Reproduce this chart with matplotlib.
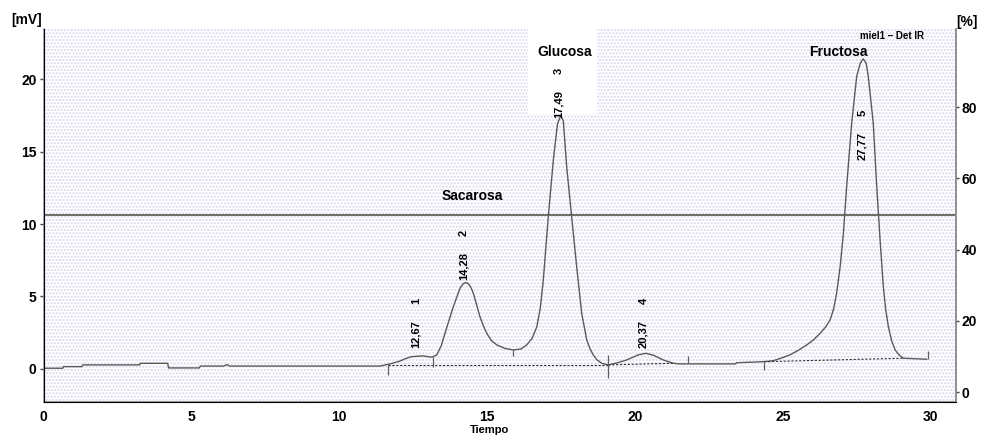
import matplotlib
matplotlib.use('Agg')
import matplotlib.pyplot as plt
from matplotlib.patches import Rectangle

plt.rcParams['font.family'] = ['Liberation Sans', 'DejaVu Sans']
plt.rcParams['font.weight'] = 'bold'

tiempo = [0.0, 0.65, 0.67, 1.3, 1.33, 3.25, 3.27, 4.2, 4.23, 5.27, 5.3, 6.1, 6.2, 6.3,
          11.38, 11.72, 12.06, 12.25, 12.45, 12.84, 13.13, 13.3, 13.45, 13.58, 13.72,
          13.86, 14.0, 14.09, 14.2, 14.29, 14.38, 14.46, 14.54, 14.65, 14.76, 14.88,
          14.99, 15.15, 15.33, 15.6, 15.89, 16.15, 16.34, 16.52, 16.68, 16.8, 16.9,
          17.07, 17.24, 17.38, 17.49, 17.58, 17.69, 17.86, 18.03, 18.2, 18.37, 18.48,
          18.59, 18.72, 18.88, 19.1, 19.4, 19.72, 20.11, 20.37, 20.62, 20.96, 21.3,
          21.5, 23.4, 23.44, 24.34, 24.68, 24.95, 25.24, 25.52, 25.81, 26.05, 26.26,
          26.45, 26.6, 26.72, 26.82, 26.94, 27.05, 27.16, 27.33, 27.5, 27.62, 27.72,
          27.82, 27.89, 28.06, 28.17, 28.29, 28.4, 28.48, 28.57, 28.68, 28.8, 28.94,
          29.08, 29.87]
senal = [0.05, 0.05, 0.16, 0.16, 0.28, 0.28, 0.39, 0.39, 0.07, 0.07, 0.2, 0.2, 0.3, 0.2,
         0.2, 0.35, 0.55, 0.72, 0.85, 0.9, 0.81, 0.97, 1.6, 2.48, 3.4,
         4.3, 5.1, 5.6, 5.9, 5.96, 5.85, 5.6, 5.2, 4.4, 3.6, 2.95,
         2.46, 1.95, 1.66, 1.42, 1.31, 1.38, 1.66, 2.1, 2.9, 4.2, 6.1,
         10.5, 14.4, 16.9, 17.5, 17.1, 14.0, 10.5, 7.06, 3.84, 2.0, 1.4,
         0.97, 0.62, 0.39, 0.28, 0.42, 0.62, 0.97, 1.08, 0.95, 0.62, 0.39,
         0.35, 0.35, 0.43, 0.5, 0.57, 0.75, 0.97, 1.28, 1.66, 2.02, 2.46,
         2.9, 3.38, 4.15, 5.22, 7.06, 9.37, 12.6, 16.96, 20.2, 21.1, 21.4,
         21.1, 20.2, 16.96, 12.8, 8.9, 5.68, 4.1, 2.92, 1.95, 1.31, 0.95,
         0.74, 0.67]

# linea base de integracion (punteada)
base_t = [[11.65, 19.1], [19.1, 21.3], [24.37, 29.08]]
base_mv = [[0.28, 0.28], [0.28, 0.39], [0.5, 0.74]]

# marcas de inicio/fin de integracion
marca_t = [11.65, 13.18, 15.89, 19.1, 21.8, 24.37, 29.92]
marca_lo = [-0.41, 0.14, 0.9, -0.62, 0.41, -0.07, 0.69]
marca_hi = [0.28, 0.83, 1.31, 0.97, 0.92, 0.48, 1.24]

# picos
pico_t = [12.67, 14.28, 17.49, 20.37, 27.77]
pico_tr = ['12,67', '14,28', '17,49', '20,37', '27,77']
pico_num = ['1', '2', '3', '4', '5']
linea_h = 10.63

fig = plt.figure(figsize=(9.82, 4.36), dpi=100)
ax = fig.add_axes([0.0443, 0.078, 0.929, 0.8555])
ax.set_facecolor('white')

# fondo punteado
fondo = Rectangle((0, 0), 1, 1, transform=ax.transAxes, facecolor='white',
                  edgecolor='#d6d6f0', hatch='.....', lw=0, zorder=0)
ax.add_patch(fondo)
ax.add_patch(Rectangle((16.38, 17.6), 2.34, 6.0, facecolor='white', lw=0, zorder=1))

ax.axhline(linea_h, color='#6e6e64', lw=1.4, zorder=2)
ax.plot(tiempo, senal, color='#5a5a5a', lw=1.0, zorder=3)
for bt, bm in zip(base_t, base_mv):
    ax.plot(bt, bm, color='#303030', lw=0.8, ls=(0, (2, 1.5)), zorder=3)
ax.vlines(marca_t, marca_lo, marca_hi, color='#606060', lw=0.9, zorder=3)

# etiquetas de picos
y_etq = [1.45, 6.14, 17.3, 1.45, 14.4]
for t, tr, n, yb in zip(pico_t, pico_tr, pico_num, y_etq):
    ax.annotate(tr, xy=(t - 0.08, yb), rotation=90, ha='center', va='bottom',
                fontsize=8, zorder=4)
    ax.annotate(n, xy=(t - 0.08, yb), xytext=(0, 44), textcoords='offset pixels',
                rotation=90, ha='center', va='bottom', fontsize=8, zorder=4)

ax.text(14.49, 11.93, 'Sacarosa', ha='center', va='center', fontsize=10)
ax.text(17.64, 21.9, 'Glucosa', ha='center', va='center', fontsize=10)
ax.text(26.87, 21.9, 'Fructosa', ha='center', va='center', fontsize=10)
ax.text(28.7, 22.98, 'miel1 \u2013 Det IR', ha='center', va='center', fontsize=7)

ax.set_xlim(0, 30.85)
ax.set_ylim(-2.28, 23.46)
ax.set_xticks([0, 5, 10, 15, 20, 25, 30])
ax.set_yticks([0, 5, 10, 15, 20])
ax.tick_params(axis='y', length=3, width=1, color='#404040', labelsize=10, pad=2)
ax.tick_params(axis='x', length=0, labelsize=10, pad=6)
ax.spines['top'].set_visible(False)
ax.spines['left'].set_color('#9a9ab8')
ax.spines['bottom'].set_color('#909090')
ax.spines['right'].set_color('#909090')
for s in ax.spines.values():
    s.set_linewidth(1.2)

ax2 = ax.twinx()
ax2.set_ylim(-2.8, 101.9)
ax2.set_yticks([0, 20, 40, 60, 80])
ax2.tick_params(axis='y', length=2, width=1, color='#404040', labelsize=10, pad=2)
ax2.spines['top'].set_visible(False)
ax2.spines['right'].set_color('#909090')
ax2.spines['right'].set_linewidth(1.2)

fig.text(27 / 982, 1 - 20 / 436, '[mV]', ha='center', va='center', fontsize=10)
fig.text(967 / 982, 1 - 22 / 436, '[%]', ha='center', va='center', fontsize=10)
fig.text(490 / 982, 1 - 430 / 436, 'Tiempo', ha='center', va='center', fontsize=8)

fig.savefig('out.png', dpi=100)
